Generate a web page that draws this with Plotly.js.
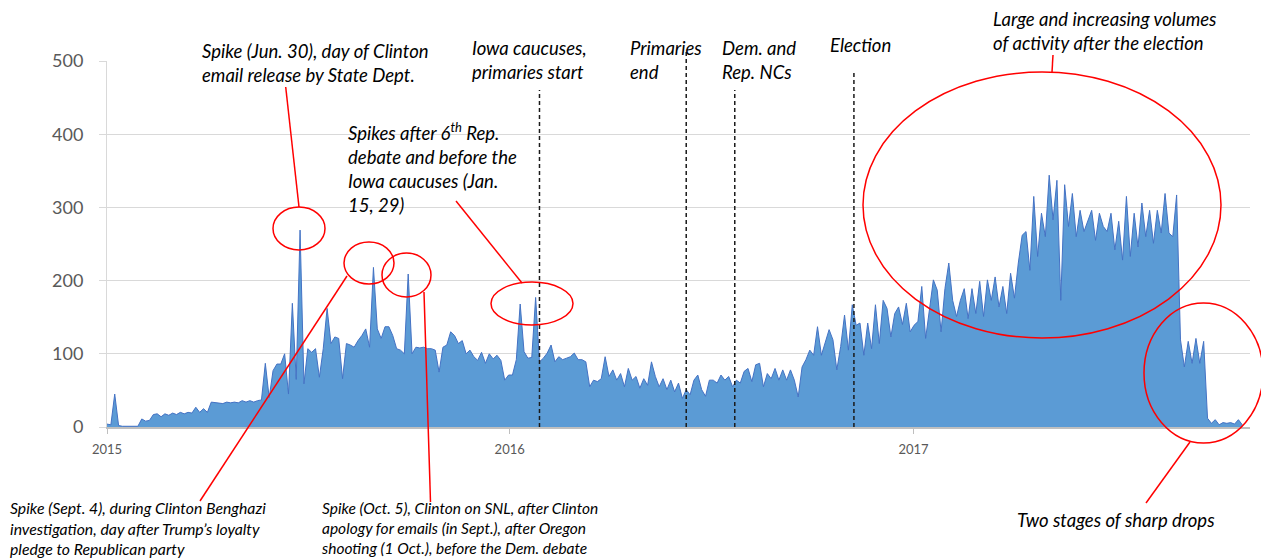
<!DOCTYPE html>
<html><head><meta charset="utf-8">
<script src="https://cdn.plot.ly/plotly-3.0.1.min.js"></script>
<style>html,body{margin:0;padding:0;background:#fff}#chart{width:1261px;height:560px}</style>
</head><body><div id="chart"></div>
<script>
// ---- data ----
const seriesStart = '2015-01-01';
const sampleStepDays = 3.5;
const activity = [
  4,3,45,2,1,1,1,1,1,11,
  8,9,17,18,14,18,16,19,17,20,
  18,20,19,27,20,25,20,34,33,33,
  32,34,33,34,33,36,34,36,34,36,
  37,87,40,77,86,86,100,45,169,65,
  269,59,107,102,107,68,107,162,114,123,
  121,66,114,112,109,118,125,134,109,218,
  134,121,137,137,125,107,105,100,209,100,
  109,108,109,107,107,105,75,109,112,130,
  125,114,118,100,105,96,91,102,87,100,
  93,98,91,64,71,71,92,168,103,94,
  95,177,89,94,101,112,89,96,92,94,
  96,101,92,92,89,55,64,62,66,96,
  69,78,64,73,55,80,64,69,53,66,
  57,89,69,55,66,51,64,48,60,39,
  51,44,64,71,51,42,64,64,60,71,
  64,69,55,64,60,76,80,62,85,87,
  55,73,66,80,64,78,64,78,64,41,
  82,92,105,98,137,98,117,133,119,78,
  110,153,105,167,139,142,98,142,107,167,
  114,173,162,123,155,164,140,169,130,139,
  144,192,121,164,201,187,130,189,224,173,
  151,173,189,148,189,155,199,151,201,173,
  205,164,192,155,210,176,224,262,267,214,
  315,233,292,260,344,283,337,173,331,274,
  319,260,296,267,283,296,255,292,274,267,
  292,242,281,228,315,233,292,246,306,260,
  296,251,296,265,319,265,260,317,119,82,
  117,87,121,87,117,12,5,10,3,6,
  5,6,4,10,3
];
const eventDates = ['2016-01-28','2016-06-09','2016-07-23','2016-11-08'];
const yearTickDates = ['2015-01-01','2016-01-01','2017-01-01'];
const yearTickLabels = ['2015','2016','2017'];
const yTickValues = [0,100,200,300,400,500];
const xRange = ['2015-01-01','2017-11-02'];

// ---- build trace ----
function fmt(ms){
  const d = new Date(ms);
  const p = n => String(n).padStart(2,'0');
  return d.getUTCFullYear()+'-'+p(d.getUTCMonth()+1)+'-'+p(d.getUTCDate())+' '+p(d.getUTCHours())+':'+p(d.getUTCMinutes());
}
const toMs = s => Date.parse(s+'T00:00:00Z');
const t0 = toMs(seriesStart);
const xDates = activity.map((v,i)=>fmt(t0 + i*sampleStepDays*86400000));

const trace = {
  type:'scatter', mode:'lines', x:xDates, y:activity,
  fill:'tozeroy', fillcolor:'#5b9bd5',
  line:{color:'#4472c4', width:1}, hoverinfo:'x+y'
};

// ---- pixel -> paper helpers for decorations ----
const W=1261, H=560, ML=107, MR=11, MT=61, MB=133;
const PW=W-ML-MR, PH=H-MT-MB;
const px = x => (x-ML)/PW;
const py = y => (H-MB-y)/PH;
const dateToPaper = s => (toMs(s)-toMs(xRange[0]))/(toMs(xRange[1])-toMs(xRange[0]));

const red = {color:'#ff0000', width:1.5};
function ell(x0,y0,x1,y1){return {type:'circle',xref:'paper',yref:'paper',x0:px(x0),x1:px(x1),y0:py(y1),y1:py(y0),line:red,layer:'above'};}
function seg(x0,y0,x1,y1){return {type:'line',xref:'paper',yref:'paper',x0:px(x0),x1:px(x1),y0:py(y0),y1:py(y1),line:red,layer:'above'};}

const eventTopsPx = [90,52,90,72];
const shapes = [];
eventDates.forEach((d,i)=>{
  const xp = dateToPaper(d);
  shapes.push({type:'line',xref:'paper',yref:'paper',x0:xp,x1:xp,y0:0,y1:py(eventTopsPx[i]),
    line:{color:'#1a1a1a',width:1.5,dash:'4px,3px'},layer:'above'});
});
shapes.push(
  ell(273,207,325,250),
  ell(344,242,394,284),
  ell(382,253,431,297),
  ell(491,282,573,325),
  ell(863,72,1221,338),
  ell(1144,303,1263,443),
  seg(285.7,87,299,207),
  seg(456,201,522,283),
  seg(1053,55,1052,72),
  seg(1146,503,1190,442),
  seg(200,501,347,276),
  seg(424,292,430.5,502)
);

const fontFam = 'Lato, "Open Sans", sans-serif';
function ann(text,x,y,size){
  return {xref:'paper',yref:'paper',x:px(x),y:py(y),text:'<i>'+text+'</i>',showarrow:false,
    xanchor:'left',yanchor:'middle',align:'left',
    font:{family:fontFam,size:size,color:'#000',style:'italic'}};
}
const annotations = [
  ann('Spike (Jun. 30), day of Clinton<br>email release by State Dept.',200,63.5,18.5),
  ann('Iowa caucuses,<br>primaries start',470,59.5,18.5),
  ann('Primaries<br>end',628,59.5,18.5),
  ann('Dem. and<br>Rep. NCs',720,59.5,18.5),
  ann('Election',828,45,18.5),
  ann('Large and increasing volumes<br>of activity after the election',991,30.5,18.5),
  ann('Spikes after 6<sup>th</sup> Rep.<br>debate and before the<br>Iowa caucuses (Jan.<br>15, 29)',346,167.5,18.5),
  ann('Spike (Sept. 4), during Clinton Benghazi<br>investigation, day after Trump’s loyalty<br>pledge to Republican party',8,528,15.8),
  ann('Spike (Oct. 5), Clinton on SNL, after Clinton<br>apology for emails (in Sept.), after Oregon<br>shooting (1 Oct.), before the Dem. debate',320,528,15.5),
  ann('Two stages of sharp drops',1015,520,18.5)
];

const layout = {
  width:W, height:H, margin:{l:ML,r:MR,t:MT,b:MB,pad:0},
  paper_bgcolor:'#fff', plot_bgcolor:'#fff', showlegend:false,
  font:{family:fontFam,color:'#595959'},
  xaxis:{type:'date', range:xRange, tickvals:yearTickDates, ticktext:yearTickLabels,
    showgrid:false, zeroline:false, showline:true, linecolor:'#bfbfbf', linewidth:2,
    ticks:'outside', ticklen:5, tickcolor:'#bfbfbf', tickwidth:1,
    tickfont:{family:fontFam,size:13,color:'#595959'}, ticklabelstandoff:4},
  yaxis:{range:[0,500], tickvals:yTickValues, showgrid:true, gridcolor:'#d9d9d9', gridwidth:1,
    zeroline:false, showline:true, linecolor:'#d9d9d9', linewidth:1,
    ticks:'outside', ticklen:7, tickcolor:'#d9d9d9',
    tickfont:{family:fontFam,size:18,color:'#595959'}, ticklabelstandoff:12},
  shapes:shapes, annotations:annotations
};
Plotly.newPlot('chart',[trace],layout,{staticPlot:true,displayModeBar:false});
</script></body></html>
